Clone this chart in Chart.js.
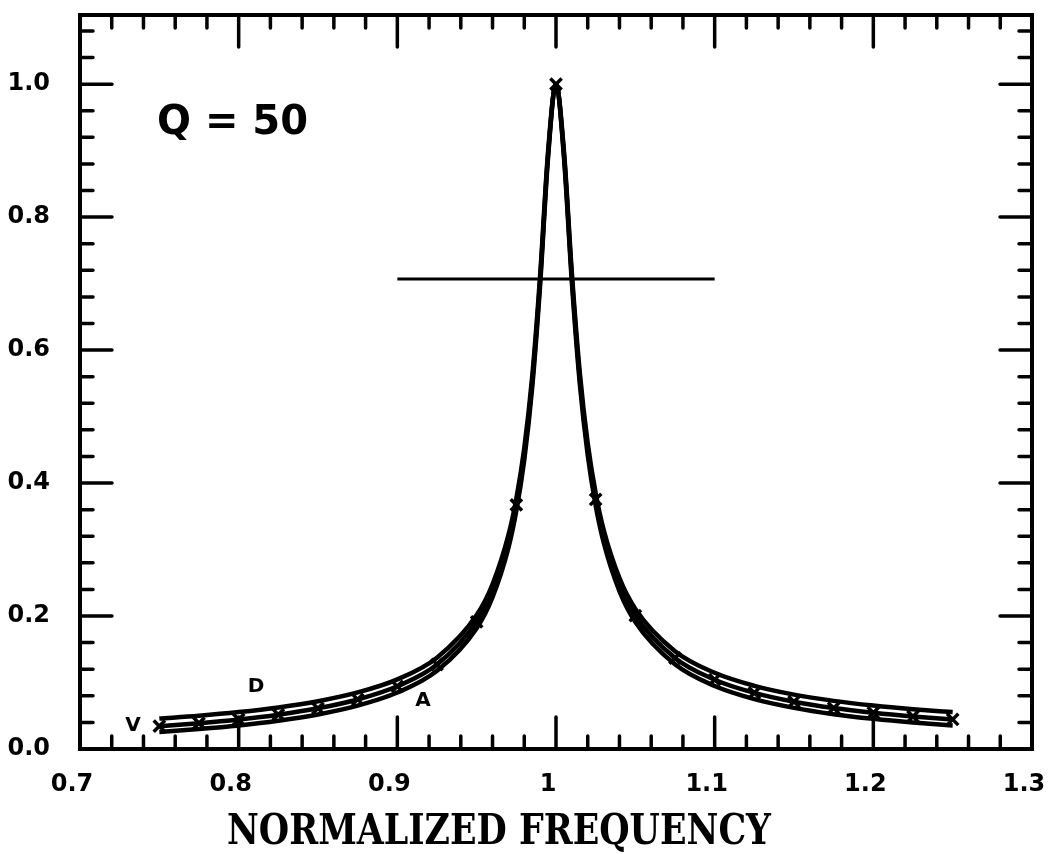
<!DOCTYPE html>
<html>
<head>
<meta charset="utf-8">
<title>Resonance response, Q = 50</title>
<script src="https://cdn.jsdelivr.net/npm/chart.js@4.4.1/dist/chart.umd.min.js"></script>
<style>
  html, body { margin: 0; padding: 0; background: #ffffff; }
  #wrap { width: 1050px; height: 854px; }
</style>
</head>
<body>
<div id="wrap"><canvas id="chart" width="1050" height="854"></canvas></div>
<script>
// Normalized frequency samples (finer around the resonance peak)
const freqs = [
  0.75, 0.775, 0.8, 0.825, 0.85, 0.875, 0.9, 0.925, 0.95, 0.96, 0.97, 0.975,
  0.98, 0.985, 0.99, 0.995, 1.0, 1.005, 1.01, 1.015, 1.02, 1.025, 1.03, 1.04,
  1.05, 1.075, 1.1, 1.125, 1.15, 1.175, 1.2, 1.225, 1.25
];

// Displacement response (D)
const dispResp = [
  0.0457, 0.0500, 0.0555, 0.0625, 0.0719, 0.0851, 0.1048, 0.1374, 0.2014, 0.2478, 0.3216, 0.3767,
  0.4527, 0.5602, 0.7124, 0.8985, 1.0, 0.8905, 0.7019, 0.5494, 0.4419, 0.3662, 0.3111, 0.2375,
  0.1911, 0.1274, 0.0947, 0.0750, 0.0619, 0.0524, 0.0454, 0.0399, 0.0355
];

// Velocity response (V)
const veloResp = [
  0.0343, 0.0388, 0.0444, 0.0516, 0.0612, 0.0745, 0.0943, 0.1271, 0.1913, 0.2379, 0.3119, 0.3673,
  0.4436, 0.5518, 0.7053, 0.8940, 1.0, 0.8949, 0.7089, 0.5576, 0.4507, 0.3753, 0.3204, 0.2470,
  0.2007, 0.1369, 0.1042, 0.0844, 0.0711, 0.0616, 0.0545, 0.0489, 0.0444
];

// Acceleration response (A)
const accelResp = [
  0.0257, 0.0301, 0.0355, 0.0426, 0.0520, 0.0652, 0.0849, 0.1176, 0.1817, 0.2284, 0.3025, 0.3581,
  0.4347, 0.5435, 0.6983, 0.8895, 1.0, 0.8994, 0.7160, 0.5660, 0.4597, 0.3847, 0.3300, 0.2569,
  0.2107, 0.1472, 0.1146, 0.0950, 0.0818, 0.0724, 0.0654, 0.0599, 0.0555
];

// Frequencies carrying an "x" marker on the V curve
const markerFreqs = [
  0.75, 0.775, 0.8, 0.825, 0.85, 0.875, 0.9, 0.925, 0.95, 0.975, 1.0,
  1.025, 1.05, 1.075, 1.1, 1.125, 1.15, 1.175, 1.2, 1.225, 1.25
];

// Half-power level line
const halfPowerLevel = 0.707;
const halfPowerSpan = [0.9, 1.1];

// Axis ticks
const xTickValues = [0.7, 0.8, 0.9, 1.0, 1.1, 1.2, 1.3];
const xTickLabels = ['0.7', '0.8', '0.9', '1', '1.1', '1.2', '1.3'];
const yTickValues = [0.0, 0.2, 0.4, 0.6, 0.8, 1.0];
const yTickLabels = ['0.0', '0.2', '0.4', '0.6', '0.8', '1.0'];
const xMinorStep = 0.02;
const yMinorStep = 0.04;

// Text placed in data coordinates
const curveLabels = [
  { text: 'V', x: 0.7334, y: 0.0346 },
  { text: 'D', x: 0.8109, y: 0.0932 },
  { text: 'A', x: 0.9161, y: 0.0722 }
];
const qLabel = { text: 'Q = 50', x: 0.7485, y: 0.94 };
const axisTitle = 'NORMALIZED FREQUENCY';

const X_MIN = 0.7, X_MAX = 1.3, Y_MIN = 0, Y_MAX = 1.104;

const toPoints = (vals) => freqs.map((f, i) => ({ x: f, y: vals[i] }));
const isMarked = (f) => markerFreqs.some((m) => Math.abs(m - f) < 1e-9);

const tickFont = { family: 'DejaVu Sans', size: 24, weight: 'bold' };

// Inward tick marks on all four sides, frame, and annotations
const framePlugin = {
  id: 'plotFrame',
  afterDraw(chart) {
    const { ctx, chartArea: a, scales } = chart;
    const xs = scales.x, ys = scales.y;
    const MAJOR = 32, MINOR = 13;
    ctx.save();
    ctx.strokeStyle = '#000';
    ctx.lineCap = 'round';
    ctx.lineWidth = 3.5;

    const nearMultiple = (v, step) => Math.abs(v / step - Math.round(v / step)) < 1e-6;

    // x ticks (bottom and top)
    for (let v = X_MIN + xMinorStep; v < X_MAX - 1e-9; v += xMinorStep) {
      const px = xs.getPixelForValue(v);
      const len = nearMultiple(v, 0.1) ? MAJOR : MINOR;
      ctx.beginPath();
      ctx.moveTo(px, a.bottom); ctx.lineTo(px, a.bottom - len);
      ctx.moveTo(px, a.top); ctx.lineTo(px, a.top + len);
      ctx.stroke();
    }
    // y ticks (left and right)
    for (let v = Y_MIN + yMinorStep; v < Y_MAX - 1e-9; v += yMinorStep) {
      const py = ys.getPixelForValue(v);
      const len = nearMultiple(v, 0.2) ? MAJOR : MINOR;
      ctx.beginPath();
      ctx.moveTo(a.left, py); ctx.lineTo(a.left + len, py);
      ctx.moveTo(a.right, py); ctx.lineTo(a.right - len, py);
      ctx.stroke();
    }

    // frame
    ctx.lineCap = 'butt';
    ctx.lineWidth = 4;
    ctx.strokeRect(a.left, a.top, a.right - a.left, a.bottom - a.top);

    // curve labels
    ctx.fillStyle = '#000';
    ctx.textAlign = 'center';
    ctx.textBaseline = 'middle';
    ctx.font = 'bold 20px "DejaVu Sans"';
    curveLabels.forEach((l) => {
      ctx.fillText(l.text, xs.getPixelForValue(l.x), ys.getPixelForValue(l.y));
    });

    // Q label
    ctx.textAlign = 'left';
    ctx.font = 'bold 40px "DejaVu Sans"';
    ctx.fillText(qLabel.text, xs.getPixelForValue(qLabel.x), ys.getPixelForValue(qLabel.y));

    // axis title
    ctx.textAlign = 'center';
    ctx.textBaseline = 'alphabetic';
    ctx.font = 'bold 43px "DejaVu Serif"';
    ctx.fillText(axisTitle, a.left + 419, a.bottom + 95, 544);
    ctx.restore();
  }
};

const lineStyle = {
  borderColor: '#000',
  borderWidth: 4.5,
  fill: false,
  cubicInterpolationMode: 'monotone',
  pointRadius: 0,
  pointHoverRadius: 0
};

new Chart(document.getElementById('chart'), {
  type: 'line',
  data: {
    datasets: [
      { label: 'D', data: toPoints(dispResp), ...lineStyle },
      { label: 'A', data: toPoints(accelResp), ...lineStyle },
      {
        label: 'V', data: toPoints(veloResp), ...lineStyle,
        pointStyle: 'crossRot',
        pointRadius: (c) => (isMarked(freqs[c.dataIndex]) ? 8 : 0),
        pointBorderWidth: 3.5,
        pointBorderColor: '#000',
        pointBackgroundColor: '#000'
      },
      {
        label: 'half power',
        data: halfPowerSpan.map((f) => ({ x: f, y: halfPowerLevel })),
        borderColor: '#000', borderWidth: 3, pointRadius: 0, fill: false
      }
    ]
  },
  options: {
    responsive: false,
    animation: false,
    devicePixelRatio: 1,
    layout: { padding: { top: 15, right: 18, left: 0, bottom: 0 } },
    plugins: {
      legend: { display: false },
      tooltip: { enabled: false },
      title: { display: false }
    },
    scales: {
      x: {
        type: 'linear',
        min: X_MIN, max: X_MAX,
        afterBuildTicks: (s) => { s.ticks = xTickValues.map((v) => ({ value: v })); },
        afterFit: (s) => { s.height = 105; s.paddingLeft = 0; s.paddingRight = 0; },
        grid: { display: false, drawTicks: false },
        border: { display: false },
        ticks: {
          callback: (v, i) => xTickLabels[i],
          font: tickFont,
          color: '#000',
          padding: 21,
          labelOffset: -8,
          maxRotation: 0,
          autoSkip: false
        }
      },
      y: {
        type: 'linear',
        min: Y_MIN, max: Y_MAX,
        afterBuildTicks: (s) => { s.ticks = yTickValues.map((v) => ({ value: v })); },
        afterFit: (s) => { s.width = 80; s.paddingTop = 0; s.paddingBottom = 0; },
        grid: { display: false, drawTicks: false },
        border: { display: false },
        ticks: {
          callback: (v, i) => yTickLabels[i],
          font: tickFont,
          color: '#000',
          padding: 30,
          autoSkip: false
        }
      }
    }
  },
  plugins: [framePlugin]
});
</script>
</body>
</html>
